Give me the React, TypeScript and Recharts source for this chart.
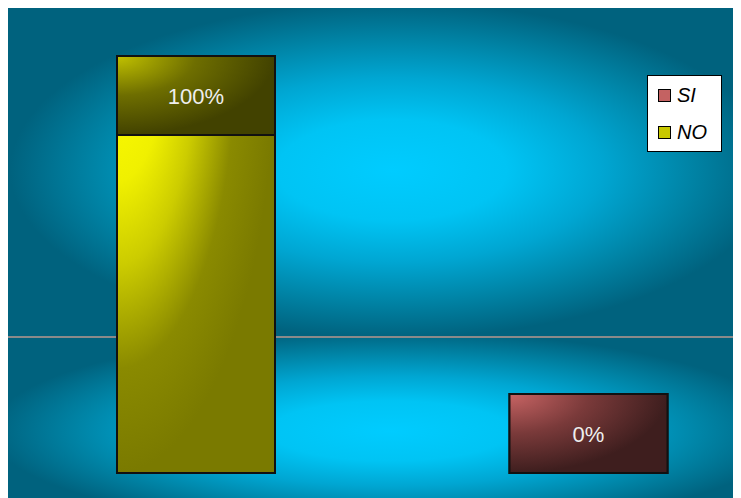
import React from 'react';
import { Bar, BarChart, Cell, ReferenceLine, XAxis, YAxis } from 'recharts';

// chart values
const categories = ['NO', 'SI'];
const shares = [1, 0];
const shareLabels = ['100%', '0%'];
const legendOrder = ['SI', 'NO'];
const floorLine = 0.326;

const barFill: Record<string, string> = {
	NO: 'url(#gradNoBar)',
	SI: 'url(#gradSiBox)',
};
const boxFill: Record<string, string> = {
	NO: 'url(#gradNoBox)',
	SI: 'url(#gradSiBox)',
};
const legendColor: Record<string, string> = {
	SI: '#c46262',
	NO: '#c8c800',
};

const data = categories.map((name, i) => ({ name, value: shares[i], label: shareLabels[i] }));

const BOX_H = 79;

// bar body plus the dark label box sitting on its top end
const BarWithBox = (props: any) => {
	const { x, y, width, height, index } = props;
	const name = categories[index] ?? 'NO';
	return (
		<g>
			<rect x={x} y={y} width={width} height={height} fill={barFill[name]} stroke="#111" strokeWidth={2} />
			<rect x={x} y={y} width={width} height={BOX_H} fill={boxFill[name]} stroke="#111" strokeWidth={2} />
			<text
				x={x + width / 2}
				y={y + BOX_H / 2 + 1}
				textAnchor="middle"
				dominantBaseline="central"
				fill="#eeeeee"
				fontSize={22}
				fontFamily="'Liberation Sans', Arial, sans-serif"
			>
				{shareLabels[index]}
			</text>
		</g>
	);
};

const LegendBox = () => (
	<div
		style={{
			position: 'absolute',
			left: 639,
			top: 67,
			background: '#fff',
			border: '1px solid #000',
			width: 73,
			height: 75,
			fontFamily: "'Liberation Sans', Arial, sans-serif",
			fontStyle: 'italic',
			fontSize: 20,
			color: '#000',
		}}
	>
		{legendOrder.map((name, i) => (
			<div
				key={name}
				style={{ display: 'flex', alignItems: 'center', height: 37, paddingLeft: 10, marginTop: i === 0 ? 1 : 0 }}
			>
				<span
					style={{
						display: 'inline-block',
						width: 11,
						height: 11,
						background: legendColor[name],
						border: '1px solid #000',
						marginRight: 6,
					}}
				/>
				<span>{name}</span>
			</div>
		))}
	</div>
);

const stops = '#00ccff 0%, #00c4f4 30%, #00a6d2 55%, #0084a6 78%, #00627e 100%';

export default function App() {
	return (
		<div
			style={{
				width: 733,
				height: 490,
				position: 'relative',
				backgroundColor: '#00627e',
				backgroundImage: `radial-gradient(382px 168px at 384px 162px, ${stops})`,
				backgroundSize: '733px 329px',
				backgroundPosition: '0 0',
				backgroundRepeat: 'no-repeat',
			}}
		>
			<div
				style={{
					position: 'absolute',
					left: 0,
					top: 329,
					width: 733,
					height: 161,
					backgroundImage: `radial-gradient(400px 100px at 382px 94px, ${stops})`,
				}}
			/>
			<BarChart
				width={733}
				height={490}
				data={data}
				margin={{ top: 48, right: -44, bottom: 25, left: -8 }}
				style={{ position: 'absolute', left: 0, top: 0 }}
			>
				<defs>
					<radialGradient id="gradNoBar" cx="0" cy="0" r="1" fx="0" fy="0">
						<stop offset="0%" stopColor="#ffff00" />
						<stop offset="30%" stopColor="#f0f000" />
						<stop offset="50%" stopColor="#cccc00" />
						<stop offset="75%" stopColor="#8a8a00" />
						<stop offset="100%" stopColor="#7a7a00" />
					</radialGradient>
					<radialGradient id="gradNoBox" cx="0" cy="0" r="1" fx="0" fy="0">
						<stop offset="0%" stopColor="#c2c200" />
						<stop offset="50%" stopColor="#6e6e00" />
						<stop offset="100%" stopColor="#424200" />
					</radialGradient>
					<radialGradient id="gradSiBox" cx="0" cy="0" r="1" fx="0" fy="0">
						<stop offset="0%" stopColor="#c86464" />
						<stop offset="50%" stopColor="#7a3a3a" />
						<stop offset="100%" stopColor="#3e1e1e" />
					</radialGradient>
				</defs>
				<XAxis dataKey="name" hide />
				<YAxis hide domain={[0, 1]} />
				<ReferenceLine y={floorLine} stroke="#8a8a8a" strokeWidth={2} zIndex={0} />
				<Bar
					dataKey="value"
					barSize={158}
					minPointSize={BOX_H}
					shape={BarWithBox}
					isAnimationActive={false}
				>
					{data.map((entry) => (
						<Cell key={entry.name} fill={barFill[entry.name]} />
					))}
				</Bar>
			</BarChart>
			<LegendBox />
		</div>
	);
}
